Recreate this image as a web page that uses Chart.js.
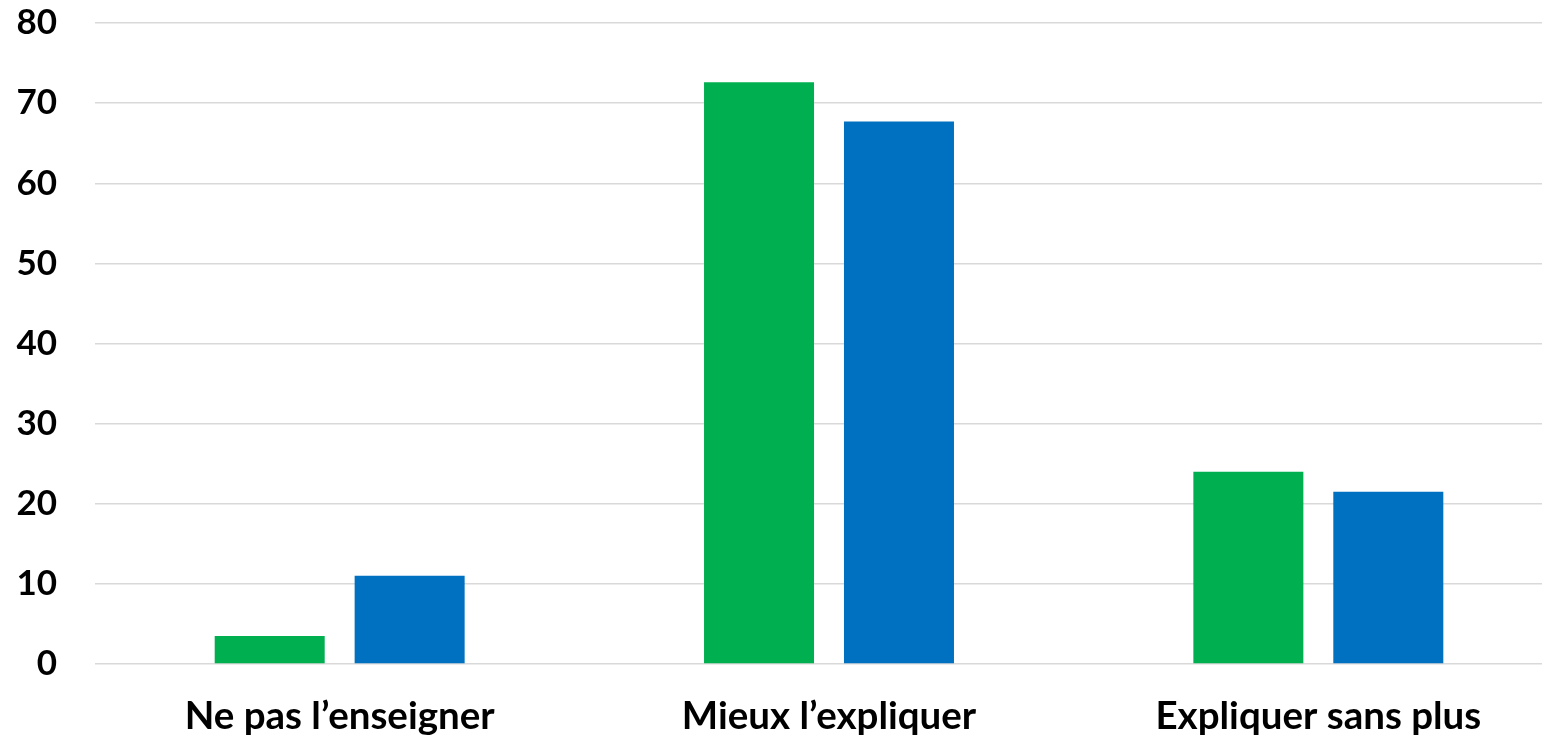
<!DOCTYPE html>
<html>
<head>
<meta charset="utf-8">
<script src="https://cdn.jsdelivr.net/npm/chart.js@4/dist/chart.umd.min.js"></script>
<style>
  html, body { margin: 0; padding: 0; background: #ffffff; overflow: hidden; }
  #wrap { position: relative; width: 1563px; height: 741px; }
</style>
</head>
<body>
<div id="wrap"><canvas id="c"></canvas></div>
<script>
const categories = ["Ne pas l\u2019enseigner", "Mieux l\u2019expliquer", "Expliquer sans plus"];
const seriesGreen = [3.5, 72.6, 24.0];
const seriesBlue = [11.0, 67.7, 21.5];
const yTicks = [0, 10, 20, 30, 40, 50, 60, 70, 80];

const fontFamily = "Lato, 'Open Sans', sans-serif";

new Chart(document.getElementById('c'), {
  type: 'bar',
  data: {
    labels: categories,
    datasets: [
      { label: 'Série 1', data: seriesGreen, backgroundColor: '#00B050', borderWidth: 0 },
      { label: 'Série 2', data: seriesBlue, backgroundColor: '#0070C0', borderWidth: 0 }
    ]
  },
  options: {
    responsive: true,
    maintainAspectRatio: false,
    animation: false,
    layout: { padding: { top: 23, left: 0, right: 0, bottom: 0 } },
    plugins: { legend: { display: false }, tooltip: { enabled: false } },
    datasets: { bar: { categoryPercentage: 0.572, barPercentage: 0.786 } },
    scales: {
      x: {
        grid: { display: false },
        border: { display: false },
        afterFit: (s) => { s.height = 77; s.paddingLeft = 0; s.paddingRight = 0; },
        ticks: {
          color: '#000',
          padding: 21,
          maxRotation: 0,
          font: { family: fontFamily, size: 38.5, weight: 'bold' }
        }
      },
      y: {
        min: 0,
        max: 80,
        afterBuildTicks: (axis) => { axis.ticks = yTicks.map(v => ({ value: v })); },
        afterFit: (s) => { s.width = 95; s.paddingTop = 0; s.paddingBottom = 0; },
        grid: { color: '#d9d9d9', lineWidth: 1.5, drawTicks: false },
        border: { display: false },
        ticks: {
          color: '#000',
          padding: 38,
          font: { family: fontFamily, size: 35, weight: 'bold' }
        }
      }
    }
  }
});
</script>
</body>
</html>
